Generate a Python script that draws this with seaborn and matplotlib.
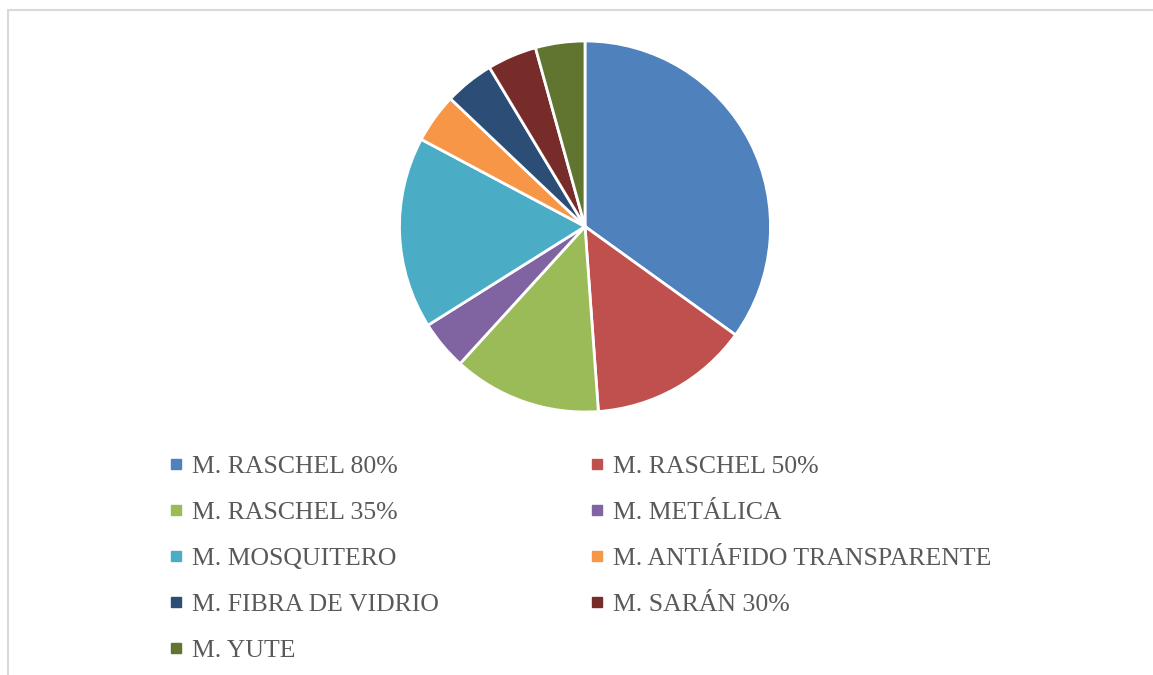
import matplotlib
matplotlib.use("Agg")
import matplotlib.pyplot as plt
import seaborn as sns
from matplotlib.lines import Line2D

# data (share of each mesh type, %)
categories = ['M. RASCHEL 80%', 'M. RASCHEL 50%', 'M. RASCHEL 35%', 'M. METÁLICA',
              'M. MOSQUITERO', 'M. ANTIÁFIDO TRANSPARENTE', 'M. FIBRA DE VIDRIO',
              'M. SARÁN 30%', 'M. YUTE']
shares = [34.9, 13.9, 12.9, 4.3, 16.7, 4.3, 4.3, 4.3, 4.3]
colors = ['#4F81BD', '#C0504D', '#9BBB59', '#8064A2', '#4BACC6',
          '#F79646', '#2C4D75', '#772C2A', '#5F7530']

sns.set_theme(style='white')
plt.rcParams['font.family'] = ['Liberation Serif', 'DejaVu Serif']

W, H = 1153, 675
fig = plt.figure(figsize=(W / 100, H / 100), dpi=100)

# chart border (only top/left visible)
fig.add_artist(Line2D([8 / W, 8 / W], [0, 1 - 10 / H], color='#D9D9D9', lw=1.5))
fig.add_artist(Line2D([8 / W, 1], [1 - 10 / H, 1 - 10 / H], color='#D9D9D9', lw=1.5))

cx, cy, r = 585, 226.5, 185.5
ax = fig.add_axes([(cx - r) / W, (H - cy - r) / H, 2 * r / W, 2 * r / H])
ax.pie(shares, colors=colors, startangle=90, counterclock=False,
       wedgeprops=dict(edgecolor='white', linewidth=2))
ax.set_xlim(-1, 1)
ax.set_ylim(-1, 1)
ax.set_aspect('equal')
ax.axis('off')

# legend, row-major order
order = [0, 2, 4, 6, 8, 1, 3, 5, 7]
handles = [Line2D([], [], marker='s', linestyle='', color=colors[i], markersize=6.5)
           for i in order]
labels = [categories[i] for i in order]
fig.legend(handles, labels, loc='upper left', bbox_to_anchor=(166 / W, 1 - 455 / H),
           ncol=2, frameon=False, fontsize=18.5, labelcolor='#595959',
           handlelength=0.75, handletextpad=0.25, labelspacing=0.9,
           columnspacing=5.8, borderpad=0, borderaxespad=0)

fig.savefig('out.png', dpi=100, facecolor='white')
